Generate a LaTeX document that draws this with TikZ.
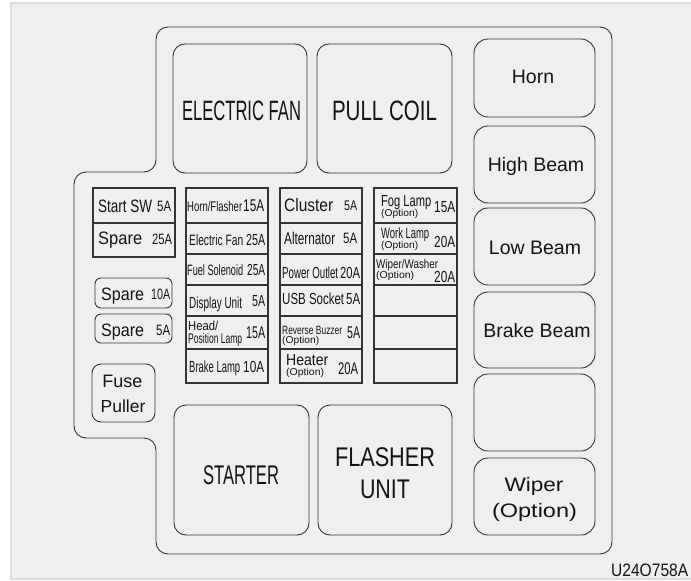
\documentclass[tikz,border=0pt]{standalone}
\usepackage{fontspec}
\usepackage{graphicx}
\setmainfont{Liberation Sans}
\definecolor{panel}{HTML}{EEEFEF}
\definecolor{panelb}{HTML}{DCDDDD}
\definecolor{ink}{HTML}{3A3232}
\definecolor{txt}{HTML}{141414}
\newcommand\fw[3]{{\fontsize{#1pt}{#1pt}\selectfont\resizebox{#2pt}{\height}{#3}}}
\newcommand\fs[2]{{\fontsize{#1pt}{#1pt}\selectfont #2}}
\tikzset{
  rbox/.style={draw=ink, line width=0.9pt, rounded corners=12pt, anchor=north west, inner sep=0pt, outer sep=0pt},
  sbox/.style={draw=ink, line width=0.9pt, rounded corners=6pt, anchor=north west, inner sep=0pt, outer sep=0pt},
  cellbox/.style={draw=ink, line width=1.2pt, anchor=north west, inner sep=0pt, outer sep=0pt},
  lbl/.style={anchor=base west, inner sep=0pt, text=txt},
  clbl/.style={anchor=base, inner sep=0pt, text=txt},
}
\begin{document}
\begin{tikzpicture}[x=1pt,y=-1pt]
\useasboundingbox (0,0) rectangle (691,581);
% panel
\fill[panel] (11,3) rectangle (691,579);
\draw[panelb, line width=2pt] (691,3) -- (11,3) -- (11,579) -- (691,579);
% housing outline
\draw[ink, line width=0.9pt, rounded corners=12pt]
  (400,27) -- (612,27) -- (612,554) -- (156,554) -- (156,438) -- (74,438)
  -- (74,172) -- (156,172) -- (156,27) -- cycle;
% big relays
\node[rbox, minimum width=134pt, minimum height=129pt] (efan) at (173,44) {};
\node[rbox, minimum width=135pt, minimum height=129pt] (pull) at (317,44) {};
\node[rbox, minimum width=135pt, minimum height=130pt] (start) at (174,405) {};
\node[rbox, minimum width=134pt, minimum height=130pt] (flash) at (318,405) {};
\node[clbl] (tefan) at (241.5,120) {\fw{28}{119}{ELECTRIC FAN}};
\node[clbl] (tpull) at (384.5,120) {\fw{28}{105}{PULL COIL}};
\node[clbl] (tstart) at (241,484) {\fw{27}{76}{STARTER}};
\node[clbl] (tflash1) at (385,466) {\fw{27}{100}{FLASHER}};
\node[clbl] (tflash2) at (385,498) {\fw{27}{50}{UNIT}};
% right column relays
\tikzset{rr/.style={rbox, rounded corners=14pt, minimum width=121pt}}
\node[rr, minimum height=78pt] (horn) at (474,39) {};
\node[rr, minimum height=77pt] (high) at (474,126) {};
\node[rr, minimum height=77pt] (low) at (474,208) {};
\node[rr, minimum height=76pt] (brake) at (474,292) {};
\node[rr, minimum height=77pt] (empty) at (474,374) {};
\node[rr, minimum height=77pt] (wiper) at (474,458) {};
\node[clbl] (thorn) at (533,83) {\fs{19.5}{Horn}};
\node[clbl] (thigh) at (536,171) {\fs{19.5}{High Beam}};
\node[clbl] (tlow) at (535,254) {\fs{19.5}{Low Beam}};
\node[clbl] (tbrake) at (537,337) {\fs{19.5}{Brake Beam}};
\node[clbl] (twip1) at (534,491) {\fw{19.5}{59}{Wiper}};
\node[clbl] (twip2) at (534.5,517) {\fw{19.5}{85}{(Option)}};
% fuse puller and spares
\node[sbox, rounded corners=9pt, minimum width=63pt, minimum height=58pt] (puller) at (92,364) {};
\node[clbl] (tfuse) at (122.5,387) {\fs{18}{Fuse}};
\node[clbl] (tpuller) at (123,412) {\fs{17.5}{Puller}};
\node[sbox, minimum width=77pt, minimum height=30pt] (sp10) at (95,278) {};
\node[sbox, minimum width=77pt, minimum height=29pt] (sp5) at (95,314) {};
\node[lbl] (tsp10a) at (101,300) {\fw{18}{43}{Spare}};
\node[lbl] (tsp10b) at (151,299) {\fw{15}{19}{10A}};
\node[lbl] (tsp5a) at (101,336) {\fw{18}{43}{Spare}};
\node[lbl] (tsp5b) at (156,335) {\fw{15}{14}{5A}};
% column 1
\node[cellbox, minimum width=82pt, minimum height=35pt] (c1r1) at (93,188) {};
\node[cellbox, minimum width=82pt, minimum height=34pt] (c1r2) at (93,223) {};
\node[lbl] (t11a) at (98,212) {\fw{18}{54}{Start SW}};
\node[lbl] (t11b) at (157,211) {\fw{15}{14}{5A}};
\node[lbl] (t12a) at (98,244) {\fw{18}{44}{Spare}};
\node[lbl] (t12b) at (152,244) {\fw{15}{20}{25A}};
% column 2
\node[cellbox, minimum width=82pt, minimum height=35pt] (c2r1) at (186,188) {};
\node[cellbox, minimum width=82pt, minimum height=31pt] (c2r2) at (186,223) {};
\node[cellbox, minimum width=82pt, minimum height=31pt] (c2r3) at (186,254) {};
\node[cellbox, minimum width=82pt, minimum height=31pt] (c2r4) at (186,285) {};
\node[cellbox, minimum width=82pt, minimum height=33pt] (c2r5) at (186,316) {};
\node[cellbox, minimum width=82pt, minimum height=34pt] (c2r6) at (186,349) {};
\node[lbl] (t21a) at (187,211) {\fw{14}{55}{Horn/Flasher}};
\node[lbl] (t21b) at (243,211) {\fw{17}{21}{15A}};
\node[lbl] (t22a) at (189,245) {\fw{15}{54}{Electric Fan}};
\node[lbl] (t22b) at (246,245) {\fw{16}{19}{25A}};
\node[lbl] (t23a) at (187,275) {\fw{15}{56}{Fuel Solenoid}};
\node[lbl] (t23b) at (247,275) {\fw{16}{18}{25A}};
\node[lbl] (t24a) at (189,308) {\fw{16}{53}{Display Unit}};
\node[lbl] (t24b) at (252,306) {\fw{16}{13}{5A}};
\node[lbl] (t25a) at (188,330) {\fw{13}{30}{Head/}};
\node[lbl] (t25b) at (188,343) {\fw{14}{54}{Position Lamp}};
\node[lbl] (t25c) at (246,338) {\fw{17}{19}{15A}};
\node[lbl] (t26a) at (189,372) {\fw{16}{51}{Brake Lamp}};
\node[lbl] (t26b) at (243,372) {\fw{16}{21}{10A}};
% column 3
\node[cellbox, minimum width=82pt, minimum height=35pt] (c3r1) at (280,188) {};
\node[cellbox, minimum width=82pt, minimum height=31pt] (c3r2) at (280,223) {};
\node[cellbox, minimum width=82pt, minimum height=31pt] (c3r3) at (280,254) {};
\node[cellbox, minimum width=82pt, minimum height=31pt] (c3r4) at (280,285) {};
\node[cellbox, minimum width=82pt, minimum height=33pt] (c3r5) at (280,316) {};
\node[cellbox, minimum width=82pt, minimum height=34pt] (c3r6) at (280,349) {};
\node[lbl] (t31a) at (284,211) {\fw{18}{49}{Cluster}};
\node[lbl] (t31b) at (344,210) {\fw{14}{13}{5A}};
\node[lbl] (t32a) at (284,244) {\fw{17}{51}{Alternator}};
\node[lbl] (t32b) at (343,243) {\fw{15}{14}{5A}};
\node[lbl] (t33a) at (282,278) {\fw{16}{56}{Power Outlet}};
\node[lbl] (t33b) at (340,278) {\fw{16}{20}{20A}};
\node[lbl] (t34a) at (282,304) {\fw{16}{62}{USB Socket}};
\node[lbl] (t34b) at (346,304) {\fw{16}{14}{5A}};
\node[lbl] (t35a) at (282,334) {\fw{12}{60}{Reverse Buzzer}};
\node[lbl] (t35b) at (282,343) {\fw{10}{37}{(Option)}};
\node[lbl] (t35c) at (347,338) {\fw{17}{13}{5A}};
\node[lbl] (t36a) at (286,365) {\fw{16}{42}{Heater}};
\node[lbl] (t36b) at (286,375) {\fw{10}{38}{(Option)}};
\node[lbl] (t36c) at (338,374) {\fw{17}{20}{20A}};
% column 4
\node[cellbox, minimum width=83pt, minimum height=35pt] (c4r1) at (374,188) {};
\node[cellbox, minimum width=83pt, minimum height=31pt] (c4r2) at (374,223) {};
\node[cellbox, minimum width=83pt, minimum height=31pt] (c4r3) at (374,254) {};
\node[cellbox, minimum width=83pt, minimum height=31pt] (c4r4) at (374,285) {};
\node[cellbox, minimum width=83pt, minimum height=33pt] (c4r5) at (374,316) {};
\node[cellbox, minimum width=83pt, minimum height=34pt] (c4r6) at (374,349) {};
\node[lbl] (t41a) at (381,206) {\fw{16}{50}{Fog Lamp}};
\node[lbl] (t41b) at (381,216) {\fw{10}{37}{(Option)}};
\node[lbl] (t41c) at (434,212) {\fw{16}{21}{15A}};
\node[lbl] (t42a) at (381,238) {\fw{15}{48}{Work Lamp}};
\node[lbl] (t42b) at (381,248) {\fw{10}{37}{(Option)}};
\node[lbl] (t42c) at (434,247) {\fw{16}{21}{20A}};
\node[lbl] (t43a) at (376,268) {\fw{12.5}{62}{Wiper/Washer}};
\node[lbl] (t43b) at (376,278) {\fw{10}{38}{(Option)}};
\node[lbl] (t43c) at (434,282) {\fw{16}{21}{20A}};
% figure code
\node[lbl] (code) at (611,576) {\fw{18}{77}{U24O758A}};
\end{tikzpicture}
\end{document}
